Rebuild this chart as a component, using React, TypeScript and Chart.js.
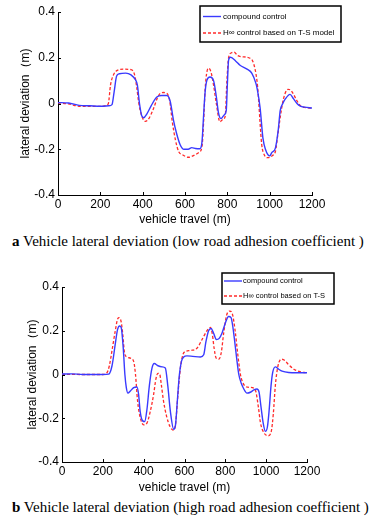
import React, { useEffect, useRef } from 'react';
import { Chart, registerables } from 'chart.js';
Chart.register(...registerables);

const xTickValues = [0, 200, 400, 600, 800, 1000, 1200];
const yTickValues = [-0.4, -0.2, 0, 0.2, 0.4];

const seriesLabelsA = ['compound control', 'H∞ control based on T-S model'];
const seriesLabelsB = ['compound control', 'H∞ control based on T-S'];

const aBlueX = [0, 50, 100, 150, 200, 240, 255, 265, 277, 290, 320, 345, 365, 375, 385, 396, 405, 420, 440, 467, 490, 514, 530, 545, 560, 577, 595, 615, 632, 650, 670, 680, 688, 695, 703, 718, 735, 748, 758, 770, 785, 795, 800, 806, 815, 840, 860, 893, 916, 935, 942, 955, 968, 980, 1000, 1010, 1027, 1040, 1050, 1062, 1074, 1096, 1113, 1129, 1145, 1165, 1200];
const aBlueY = [0.004, 0.002, -0.008, -0.01, -0.012, -0.01, -0.005, 0.05, 0.12, 0.13, 0.133, 0.125, 0.105, 0.08, 0.0, -0.055, -0.062, -0.045, -0.01, 0.028, 0.035, 0.035, 0.01, -0.07, -0.13, -0.18, -0.2, -0.2, -0.193, -0.197, -0.198, -0.17, -0.05, 0.05, 0.1, 0.116, 0.1, 0.03, -0.04, -0.066, -0.05, -0.03, 0.08, 0.19, 0.202, 0.185, 0.167, 0.15, 0.132, 0.088, 0.06, -0.02, -0.15, -0.2, -0.229, -0.215, -0.195, -0.12, -0.03, 0.0, 0.02, 0.04, 0.02, 0.0, -0.012, -0.016, -0.02];

const aRedX = [0, 50, 100, 150, 200, 228, 238, 248, 262, 280, 310, 345, 362, 372, 382, 396, 412, 430, 450, 475, 500, 514, 528, 540, 555, 570, 590, 617, 640, 664, 680, 688, 695, 702, 710, 722, 735, 748, 765, 778, 790, 798, 806, 820, 832, 848, 865, 907, 924, 940, 946, 954, 962, 975, 992, 1012, 1027, 1038, 1050, 1065, 1087, 1100, 1113, 1130, 1145, 1170, 1200];
const aRedY = [0.003, -0.002, -0.012, -0.013, -0.013, -0.008, 0.0, 0.08, 0.125, 0.145, 0.15, 0.148, 0.125, 0.07, 0.0, -0.055, -0.078, -0.065, -0.025, 0.035, 0.048, 0.045, 0.01, -0.08, -0.16, -0.21, -0.225, -0.235, -0.228, -0.215, -0.19, -0.08, 0.06, 0.13, 0.154, 0.14, 0.08, 0.0, -0.08, -0.07, -0.055, 0.1, 0.2, 0.222, 0.225, 0.21, 0.205, 0.198, 0.175, 0.1, 0.04, -0.075, -0.176, -0.225, -0.237, -0.228, -0.21, -0.14, -0.06, 0.02, 0.062, 0.058, 0.04, 0.01, -0.01, -0.018, -0.02];

const bBlueX = [0, 50, 100, 150, 200, 229, 245, 261, 272, 282, 290, 300, 308, 315, 323, 335, 351, 367, 375, 383, 395, 405, 416, 428, 441, 452, 470, 490, 506, 518, 531, 547, 556, 565, 575, 585, 596, 612, 640, 678, 694, 705, 718, 730, 742, 756, 770, 784, 798, 816, 828, 838, 846, 856, 866, 878, 890, 906, 925, 940, 955, 965, 975, 985, 996, 1006, 1014, 1024, 1032, 1045, 1060, 1078, 1110, 1150, 1200];
const bBlueY = [0.002, 0.003, 0.0, 0.0, 0.0, 0.002, 0.04, 0.14, 0.205, 0.222, 0.215, 0.12, 0.0, -0.06, -0.085, -0.075, -0.06, -0.057, -0.09, -0.17, -0.212, -0.215, -0.16, -0.05, 0.03, 0.05, 0.04, 0.035, 0.03, -0.05, -0.17, -0.25, -0.23, -0.12, 0.0, 0.06, 0.08, 0.085, 0.083, 0.08, 0.09, 0.15, 0.2, 0.21, 0.19, 0.16, 0.165, 0.19, 0.23, 0.265, 0.26, 0.21, 0.15, 0.07, 0.0, -0.04, -0.065, -0.085, -0.08, -0.07, -0.066, -0.08, -0.15, -0.22, -0.26, -0.24, -0.17, -0.05, 0.01, 0.035, 0.025, 0.015, 0.009, 0.008, 0.008];

const bRedX = [0, 100, 150, 200, 220, 232, 245, 261, 273, 280, 290, 298, 306, 318, 335, 351, 360, 370, 384, 400, 416, 432, 449, 460, 470, 478, 487, 497, 512, 530, 547, 557, 567, 580, 592, 604, 629, 661, 686, 710, 727, 737, 745, 755, 768, 780, 792, 806, 821, 835, 848, 860, 874, 890, 910, 939, 950, 962, 972, 988, 1010, 1025, 1035, 1045, 1058, 1075, 1090, 1110, 1140, 1170, 1195];
const bRedY = [0.001, 0.0, 0.0, 0.0, 0.008, 0.04, 0.11, 0.2, 0.255, 0.26, 0.24, 0.18, 0.1, 0.08, 0.075, 0.06, 0.0, -0.12, -0.2, -0.23, -0.222, -0.17, -0.09, -0.02, 0.005, 0.003, -0.05, -0.12, -0.19, -0.24, -0.255, -0.22, -0.1, 0.03, 0.09, 0.105, 0.11, 0.12, 0.16, 0.2, 0.215, 0.18, 0.12, 0.075, 0.07, 0.1, 0.19, 0.27, 0.29, 0.275, 0.2, 0.1, 0.0, -0.045, -0.058, -0.062, -0.08, -0.15, -0.22, -0.265, -0.28, -0.26, -0.18, -0.05, 0.04, 0.07, 0.065, 0.045, 0.022, 0.012, 0.008];

const BLUE = '#3a3aff';
const RED = '#ff2a2a';

const toPoints = (xs: number[], ys: number[]) => xs.map((x, i) => ({ x, y: ys[i] }));

const inwardTicks = {
  id: 'inwardTicks',
  afterDraw(chart: any) {
    const { ctx, chartArea } = chart;
    const xs = chart.scales.x;
    const ys = chart.scales.y;
    ctx.save();
    ctx.strokeStyle = '#000';
    ctx.lineWidth = 1;
    ctx.beginPath();
    xTickValues.forEach((v) => {
      const px = Math.round(xs.getPixelForValue(v)) + 0.5;
      ctx.moveTo(px, chartArea.bottom);
      ctx.lineTo(px, chartArea.bottom - 3);
    });
    yTickValues.forEach((v) => {
      const py = Math.round(ys.getPixelForValue(v)) + 0.5;
      ctx.moveTo(chartArea.left, py);
      ctx.lineTo(chartArea.left + 3, py);
    });
    ctx.stroke();
    ctx.restore();
  },
};

const boxLegend = {
  id: 'boxLegend',
  afterDraw(chart: any, _args: any, opts: any) {
    if (!opts || !opts.box) return;
    const { ctx } = chart;
    const [x0, y0, x1, y1] = opts.box;
    ctx.save();
    ctx.fillStyle = '#fff';
    ctx.fillRect(x0, y0, x1 - x0, y1 - y0);
    ctx.strokeStyle = '#000';
    ctx.lineWidth = 1.5;
    ctx.strokeRect(x0, y0, x1 - x0, y1 - y0);
    ctx.font = opts.font;
    ctx.textBaseline = 'middle';
    ctx.fillStyle = '#000';
    chart.data.datasets.forEach((ds: any, i: number) => {
      const y = opts.rows[i];
      ctx.beginPath();
      ctx.strokeStyle = ds.borderColor;
      ctx.lineWidth = ds.borderWidth;
      ctx.setLineDash(ds.borderDash || []);
      ctx.moveTo(opts.lineX[0], y);
      ctx.lineTo(opts.lineX[1], y);
      ctx.stroke();
      ctx.setLineDash([]);
      ctx.fillText(ds.label, opts.textX, y);
    });
    ctx.restore();
  },
};

type Cfg = {
  labels: string[];
  blue: { x: number; y: number }[];
  red: { x: number; y: number }[];
  padTop: number;
  padRight: number;
  yWidth: number;
  xHeight: number;
  yTitlePad: number;
  legend: any;
};

function makeConfig(c: Cfg): any {
  const tickFont = { family: '"Liberation Sans", Arial, sans-serif', size: 12 };
  return {
    type: 'line',
    data: {
      datasets: [
        { label: c.labels[0], data: c.blue, borderColor: BLUE, borderWidth: 1.4, pointRadius: 0, cubicInterpolationMode: 'monotone', fill: false },
        { label: c.labels[1], data: c.red, borderColor: RED, borderWidth: 1.3, borderDash: [3, 2], pointRadius: 0, cubicInterpolationMode: 'monotone', fill: false },
      ],
    },
    options: {
      responsive: false,
      animation: false,
      events: [],
      layout: { padding: { left: 0, top: c.padTop, right: c.padRight, bottom: 0 } },
      plugins: { legend: { display: false }, tooltip: { enabled: false }, boxLegend: c.legend },
      scales: {
        x: {
          type: 'linear',
          min: 0,
          max: 1200,
          afterBuildTicks: (s: any) => { s.ticks = xTickValues.map((v) => ({ value: v })); },
          afterFit: (s: any) => { s.height = c.xHeight; },
          ticks: { color: '#000', font: tickFont, padding: 2, maxRotation: 0, autoSkip: false, callback: (v: number) => String(v) },
          grid: { display: true, drawOnChartArea: false, drawTicks: false },
          border: { display: true, color: '#000', width: 1 },
          title: { display: true, text: 'vehicle travel (m)', color: '#000', font: tickFont, padding: { top: 0, bottom: 3 } },
        },
        y: {
          type: 'linear',
          min: -0.4,
          max: 0.4,
          afterBuildTicks: (s: any) => { s.ticks = yTickValues.map((v) => ({ value: v })); },
          afterFit: (s: any) => { s.width = c.yWidth; },
          ticks: { color: '#000', font: tickFont, padding: 3, callback: (v: number) => String(Math.round(v * 10) / 10) },
          grid: { display: true, drawOnChartArea: false, drawTicks: false },
          border: { display: true, color: '#000', width: 1 },
          title: { display: true, text: 'lateral deviation（m)', color: '#000', font: tickFont, padding: { top: c.yTitlePad, bottom: 0 } },
        },
      },
    },
    plugins: [inwardTicks, boxLegend],
  };
}

function ChartCanvas({ cfg, top, height }: { cfg: Cfg; top: number; height: number }) {
  const ref = useRef<HTMLCanvasElement>(null);
  useEffect(() => {
    if (!ref.current) return;
    const chart = new Chart(ref.current, makeConfig(cfg));
    return () => chart.destroy();
  }, []);
  return (
    <canvas ref={ref} width={373} height={height} style={{ position: 'absolute', left: 0, top, width: 373, height }} />
  );
}

const captionStyle: React.CSSProperties = {
  position: 'absolute',
  left: 12,
  fontFamily: '"Liberation Serif", "Times New Roman", serif',
  fontSize: 15,
  lineHeight: '18px',
  whiteSpace: 'nowrap',
  color: '#000',
};

export default function App() {
  const cfgA: Cfg = {
    labels: seriesLabelsA,
    blue: toPoints(aBlueX, aBlueY),
    red: toPoints(aRedX, aRedY),
    padTop: 12,
    padRight: 61,
    yWidth: 58,
    xHeight: 35,
    yTitlePad: 18,
    legend: { box: [200, 6, 341, 42], rows: [16.5, 33], lineX: [203, 221], textX: 223, font: '8px "Liberation Sans", Arial, sans-serif' },
  };
  const cfgB: Cfg = {
    labels: seriesLabelsB,
    blue: toPoints(bBlueX, bBlueY),
    red: toPoints(bRedX, bRedY),
    padTop: 27,
    padRight: 66,
    yWidth: 62,
    xHeight: 36,
    yTitlePad: 25,
    legend: { box: [222, 13, 334, 44], rows: [21, 36], lineX: [224, 242], textX: 243, font: '7.5px "Liberation Sans", Arial, sans-serif' },
  };
  return (
    <div style={{ position: 'absolute', left: 0, top: 0, width: 373, height: 520, background: '#fff', overflow: 'hidden' }}>
      <ChartCanvas cfg={cfgA} top={0} height={230} />
      <div style={{ ...captionStyle, top: 232 }}>
        <b>a</b> Vehicle lateral deviation (low road adhesion coefficient )
      </div>
      <ChartCanvas cfg={cfgB} top={260} height={238} />
      <div style={{ ...captionStyle, top: 498 }}>
        <b>b</b> Vehicle lateral deviation (high road adhesion coefficient )
      </div>
    </div>
  );
}
